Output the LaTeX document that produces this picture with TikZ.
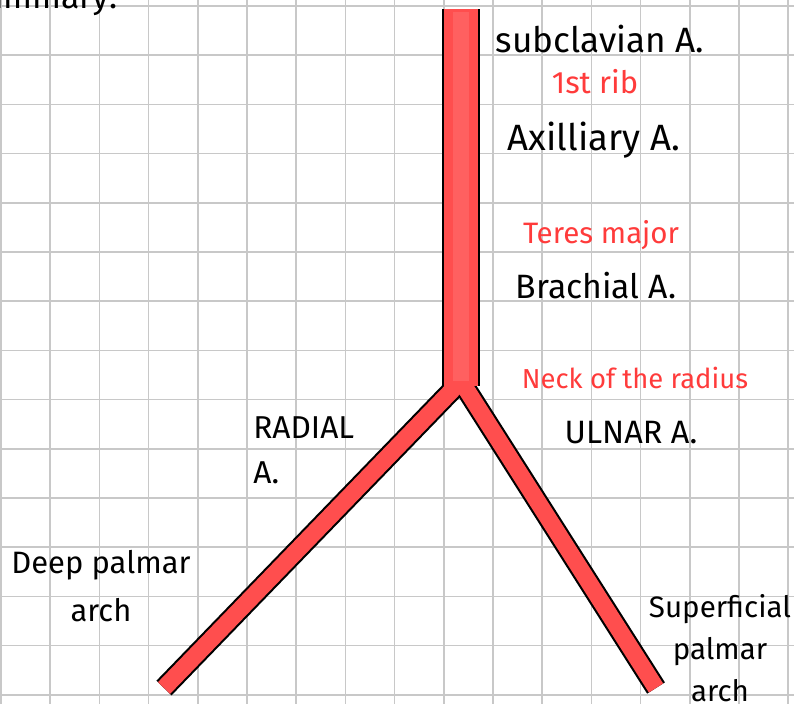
\documentclass[tikz,border=0pt]{standalone}
\usepackage{fontspec}
\setmainfont{Fira Sans}
\definecolor{gridgray}{RGB}{200,200,200}
\definecolor{vesselred}{RGB}{255,78,78}
\definecolor{vessellight}{RGB}{255,96,96}
\definecolor{notered}{RGB}{255,59,59}
\tikzset{
    gridline/.style    = {draw=gridgray, line width=1.1pt},
    vessel edge/.style = {draw=black, line cap=butt, line join=round},
    vessel fill/.style = {draw=vesselred, line cap=butt, line join=round},
    vessel core/.style = {draw=vessellight, line cap=butt, line join=round},
    artery/.style      = {inner sep=0pt, text=black,
                          font=\fontsize{24}{32}\selectfont},
    landmark/.style    = {inner sep=0pt, text=notered,
                          font=\fontsize{21}{24}\selectfont}
}
\begin{document}
\begin{tikzpicture}[x=0.025cm,y=-0.025cm]
\useasboundingbox (0,0) rectangle (794,704);
\clip (0,0) rectangle (794,704);
\fill[white] (0,0) rectangle (794,704);

% squared paper
\foreach \i in {0,...,16}
    \draw[gridline] ({1+49.2*\i},0) -- ({1+49.2*\i},704);
\foreach \j in {0,...,14}
    \draw[gridline] (0,{6+49.2*\j}) -- (794,{6+49.2*\j});

% the artery tree
\coordinate (top)   at (461,9);
\coordinate (fork)  at (461,381);
\coordinate (hand)  at (461,386);
\coordinate (deep)  at (164,688);
\coordinate (super) at (656,688);

\draw[vessel edge,line width=27pt] (top) -- (hand);
\draw[vessel edge,line width=15pt] (fork) -- (deep);
\draw[vessel edge,line width=15pt] (fork) -- (super);
\draw[vessel fill,line width=24.6pt] (top) -- (hand);
\draw[vessel fill,line width=12pt,shift={(-1.4,-1.4)}] (fork) -- (deep);
\draw[vessel fill,line width=12pt,shift={(-1.6,-0.6)}] (fork) -- (super);
\draw[vessel core,line width=12pt] ([yshift=-2pt]top) -- (fork);

% names of the arteries
\node[artery,anchor=base east] (summary) at (118,8) {Summary:};
\node[artery,anchor=base,font=\fontsize{25}{32}\selectfont] (subclavian) at (600,52) {subclavian A.};
\node[landmark,anchor=base,font=\fontsize{22}{24}\selectfont] (rib) at (595,93) {1st rib};
\node[artery,anchor=base,font=\fontsize{26}{32}\selectfont] (axillary) at (594,150) {Axilliary A.};
\node[landmark,anchor=base] (teres) at (601,243) {Teres major};
\node[artery,anchor=base] (brachial) at (596,298) {Brachial A.};
\node[landmark,anchor=base,font=\fontsize{19.5}{24}\selectfont] (neck) at (635,388) {Neck of the radius};
\node[artery,anchor=base,font=\fontsize{23}{32}\selectfont] (ulnar) at (631,443) {ULNAR A.};
\node[artery,anchor=north west,align=left,font=\fontsize{22.5}{32}\selectfont] (radial) at (253,416) {RADIAL\\A.};
\node[artery,align=center,font=\fontsize{22}{34}\selectfont] (deeparch) at (101,586) {Deep palmar\\arch};
\node[artery,align=center,font=\fontsize{21}{30}\selectfont] (superarch) at (720,648) {Superficial\\palmar\\arch};
\end{tikzpicture}
\end{document}
